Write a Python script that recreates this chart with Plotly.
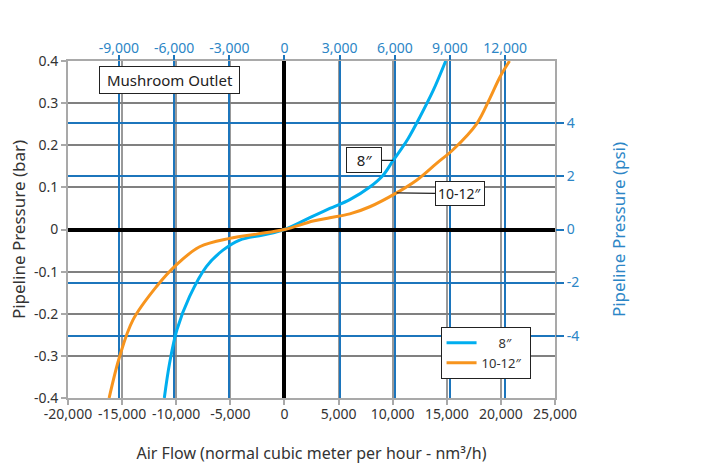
import plotly.graph_objects as go

# ---- data ----
flow_8 = [-11100, -10610, -9935, -8761, -7216, -5680, -4135, -1980, 0,
          2646, 4190, 6040, 7891, 9120, 10046, 10820, 11434, 12516, 13747, 14900]
bar_8 = [-0.40, -0.317, -0.238, -0.159, -0.088, -0.049, -0.025, -0.013, 0.0,
         0.032, 0.050, 0.071, 0.101, 0.129, 0.164, 0.192, 0.216, 0.267, 0.330, 0.40]

flow_10 = [-16200, -15236, -14006, -11841, -9991, -7835, -5060, -2590, 0,
           2646, 4190, 6040, 7891, 10360, 12210, 14060, 15597, 17761, 18992, 19917, 20800]
bar_10 = [-0.40, -0.302, -0.215, -0.136, -0.084, -0.041, -0.021, -0.011, 0.0,
          0.020, 0.028, 0.037, 0.054, 0.087, 0.117, 0.157, 0.190, 0.251, 0.312, 0.362, 0.40]

series_names = ["8\u2033", "10-12\u2033"]
series_colors = ["#00AEEF", "#F7941D"]

x_ticks = [-20000, -15000, -10000, -5000, 0, 5000, 10000, 15000, 20000, 25000]
x_labels = ["-20,000", "-15,000", "-10,000", "-5,000", "0", "5,000", "10,000", "15,000", "20,000", "25,000"]
y_ticks = [-0.4, -0.3, -0.2, -0.1, 0, 0.1, 0.2, 0.3, 0.4]
y_labels = ["-0.4", "-0.3", "-0.2", "-0.1", "0", "0.1", "0.2", "0.3", "0.4"]
cfm_ticks = [-9000, -6000, -3000, 0, 3000, 6000, 9000, 12000]
cfm_labels = ["-9,000", "-6,000", "-3,000", "0", "3,000", "6,000", "9,000", "12,000"]
psi_ticks = [-4, -2, 0, 2, 4]
psi_labels = ["-4", "-2", "0", "2", "4"]

M3H_PER_CFM = 1.699
PSI_HALF = 6.35

FONT = "Noto Sans"
TXT = "#333333"
BLUE_TXT = "#2C86C6"
BLUE_LINE = "#1C75BC"
XGRID_GRAY = "#999999"
YGRID_GRAY = "#808080"
LINE_GRAY = "darkgray"
NB = "\u00a0"

fig = go.Figure()
fig.add_trace(go.Scatter(x=flow_8, y=bar_8, mode="lines", name=NB * 5 + series_names[0] + NB,
                         line=dict(color=series_colors[0], width=3, shape="spline", smoothing=1.0),
                         xaxis="x", yaxis="y"))
fig.add_trace(go.Scatter(x=flow_10, y=bar_10, mode="lines", name=series_names[1] + NB,
                         line=dict(color=series_colors[1], width=3, shape="spline", smoothing=1.0),
                         xaxis="x", yaxis="y"))
# invisible trace to activate the secondary (cfm / psi) axes
fig.add_trace(go.Scatter(x=[0], y=[0], mode="markers", marker=dict(opacity=0), showlegend=False,
                         hoverinfo="skip", xaxis="x2", yaxis="y2"))

fig.update_layout(
    width=705, height=465,
    margin=dict(l=68, r=150, t=61, b=67),
    paper_bgcolor="white", plot_bgcolor="white",
    font=dict(family=FONT, color=TXT, size=14),
    showlegend=True,
    legend=dict(x=0.765, y=0.211, xanchor="left", yanchor="top",
                bgcolor="white", bordercolor="#222222", borderwidth=1,
                font=dict(size=13, color=TXT), tracegroupgap=0,
                itemwidth=30),
    xaxis=dict(range=[-20000, 25000], tickvals=x_ticks, ticktext=x_labels, automargin=False,
               showgrid=True, gridcolor=XGRID_GRAY, gridwidth=2,
               zeroline=True, zerolinecolor="black", zerolinewidth=4,
               showline=True, linecolor=LINE_GRAY, linewidth=2, mirror=True,
               ticks="outside", ticklen=5, tickcolor=LINE_GRAY, tickwidth=2,
               ticklabelstandoff=-3,
               tickfont=dict(size=14, color=TXT),
               title=dict(text="Air Flow (normal cubic meter per hour - nm\u00b3/h)",
                          font=dict(size=16, color=TXT), standoff=26)),
    yaxis=dict(range=[-0.4, 0.4], tickvals=y_ticks, ticktext=y_labels, automargin=False,
               showgrid=True, gridcolor=YGRID_GRAY, gridwidth=2,
               zeroline=True, zerolinecolor="black", zerolinewidth=4,
               showline=True, linecolor=LINE_GRAY, linewidth=2, mirror=True,
               ticks="outside", ticklen=5, tickcolor=LINE_GRAY, tickwidth=2,
               tickfont=dict(size=14, color=TXT),
               title=dict(text="Pipeline Pressure (bar)", font=dict(size=17, color=TXT), standoff=4)),
    xaxis2=dict(range=[-20000 / M3H_PER_CFM, 25000 / M3H_PER_CFM], overlaying="x", side="top",
                tickvals=cfm_ticks, ticktext=cfm_labels, automargin=False,
                showgrid=True, gridcolor=BLUE_LINE, gridwidth=1.5, zeroline=False,
                ticks="outside", ticklen=5, tickcolor=BLUE_LINE, tickwidth=1.5,
                ticklabelstandoff=-4,
                tickfont=dict(size=14, color=BLUE_TXT), showline=False),
    yaxis2=dict(range=[-PSI_HALF, PSI_HALF], overlaying="y", side="right",
                tickvals=psi_ticks, ticktext=psi_labels, automargin=False,
                showgrid=True, gridcolor=BLUE_LINE, gridwidth=1.5, zeroline=False,
                ticks="outside", ticklen=8, tickcolor=BLUE_LINE, tickwidth=1.5,
                tickfont=dict(size=14, color=BLUE_TXT), showline=False,
                title=dict(text="Pipeline Pressure (psi)", font=dict(size=17, color=BLUE_TXT), standoff=34)),
)

fig.add_annotation(x=-10611, y=0.354, xref="x", yref="y", text=NB + "Mushroom Outlet" + NB, showarrow=False,
                   font=dict(size=15, color="#222222"), bgcolor="white", bordercolor="#222222",
                   borderwidth=1, borderpad=3)
fig.add_annotation(x=10046, y=0.164, xref="x", yref="y", text=NB * 2 + "8\u2033" + NB * 2, showarrow=True,
                   arrowhead=0, arrowwidth=1.2, arrowcolor="#222222", ax=-29, ay=0, standoff=0,
                   font=dict(size=15, color="#222222"), bgcolor="white", bordercolor="#222222",
                   borderwidth=1, borderpad=2)
fig.add_annotation(x=10360, y=0.087, xref="x", yref="y", text="10-12\u2033", showarrow=True,
                   arrowhead=0, arrowwidth=1.2, arrowcolor="#222222", ax=63, ay=1, standoff=0,
                   font=dict(size=14, color="#222222"), bgcolor="white", bordercolor="#222222",
                   borderwidth=1, borderpad=2)

fig.write_html("out.html", config={"displayModeBar": False},
               post_script="document.body.style.margin='0px';")
